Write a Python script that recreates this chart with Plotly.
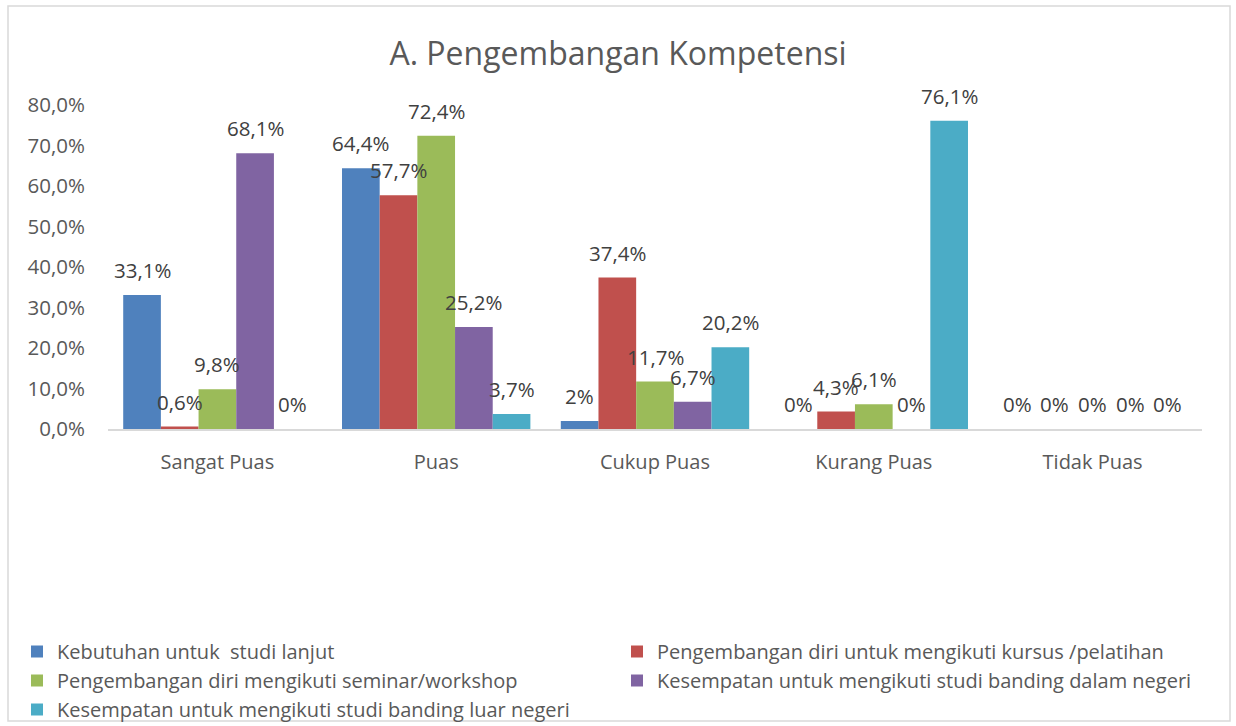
import plotly.graph_objects as go

# Data
categories = ["Sangat Puas", "Puas", "Cukup Puas", "Kurang Puas", "Tidak Puas"]
series_names = [
    "Kebutuhan untuk  studi lanjut",
    "Pengembangan diri untuk mengikuti kursus /pelatihan",
    "Pengembangan diri mengikuti seminar/workshop",
    "Kesempatan untuk mengikuti studi banding dalam negeri",
    "Kesempatan untuk mengikuti studi banding luar negeri",
]
studi_lanjut = [33.1, 64.4, 2, 0, 0]
kursus_pelatihan = [0.6, 57.7, 37.4, 4.3, 0]
seminar_workshop = [9.8, 72.4, 11.7, 6.1, 0]
banding_dalam = [68.1, 25.2, 6.7, 0, 0]
banding_luar = [0, 3.7, 20.2, 76.1, 0]
y_ticks = [0, 10, 20, 30, 40, 50, 60, 70, 80]

series_values = [studi_lanjut, kursus_pelatihan, seminar_workshop, banding_dalam, banding_luar]
colors = ["#4F81BD", "#C0504D", "#9BBB59", "#8064A2", "#4BACC6"]
legend_ids = ["legend", "legend2", "legend", "legend2", "legend"]

FONT = "Open Sans"
W, H = 1236, 726
ML, MR, MT, MB = 108, 34, 105, 297
BARGAP = 0.139


def pct(v):
    return f"{v:g}".replace(".", ",") + "%"


fig = go.Figure()
for name, vals, col, lg in zip(series_names, series_values, colors, legend_ids):
    fig.add_trace(go.Bar(
        x=categories, y=vals, name=name,
        marker=dict(color=col, line=dict(width=0)),
        legend=lg,
    ))

# data labels above each bar
n = len(series_values)
bw = (1 - BARGAP) / n
for j, vals in enumerate(series_values):
    for i, v in enumerate(vals):
        fig.add_annotation(
            x=i + (j - (n - 1) / 2) * bw, y=v, text=pct(v),
            showarrow=False, yanchor="middle", yshift=25,
            font=dict(family=FONT, size=20.5, color="#404040"),
        )

# chart border
pw, ph = W - ML - MR, H - MT - MB
fig.add_shape(
    type="rect", xref="paper", yref="paper",
    x0=(8 - ML) / pw, x1=(W - 6 - ML) / pw,
    y0=(H - MB - (H - 5)) / ph, y1=(H - MB - 6) / ph,
    line=dict(color="#D9D9D9", width=1.5), fillcolor="rgba(0,0,0,0)", layer="below",
)

fig.update_layout(
    width=W, height=H,
    margin=dict(l=ML, r=MR, t=MT, b=MB, autoexpand=False),
    paper_bgcolor="white", plot_bgcolor="white",
    barmode="group", bargap=BARGAP, bargroupgap=0,
    font=dict(family=FONT, color="#595959"),
    title=dict(
        text="A. Pengembangan Kompetensi",
        x=0.5, xref="container", xanchor="center",
        y=1 - 54 / H, yref="container", yanchor="middle",
        font=dict(family=FONT, size=32, color="#595959"),
    ),
    legend=dict(
        xref="container", yref="container", x=17 / W, y=1 - 632 / H,
        xanchor="left", yanchor="top", orientation="v",
        font=dict(family=FONT, size=20, color="#595959"),
        bgcolor="rgba(0,0,0,0)", tracegroupgap=0,
    ),
    legend2=dict(
        xref="container", yref="container", x=617 / W, y=1 - 632 / H,
        xanchor="left", yanchor="top", orientation="v",
        font=dict(family=FONT, size=20, color="#595959"),
        bgcolor="rgba(0,0,0,0)", tracegroupgap=0,
    ),
    showlegend=True,
)

fig.update_xaxes(
    type="category", range=[-0.5, len(categories) - 0.5],
    showgrid=False, showline=True, linecolor="#D9D9D9", linewidth=2,
    ticks="", ticklabelstandoff=14, tickangle=0, automargin=False,
    tickfont=dict(family=FONT, size=20, color="#595959"),
)
fig.update_yaxes(
    range=[0, 80], tickvals=y_ticks, ticktext=[f"{t:.1f}".replace(".", ",") + "%" for t in y_ticks],
    showgrid=False, showline=False, zeroline=False, automargin=False,
    ticks="", ticklabelstandoff=22,
    tickfont=dict(family=FONT, size=20.5, color="#595959"),
)

fig.write_html("out.html", config={"displayModeBar": False},
               post_script="document.body.style.margin='0';")
